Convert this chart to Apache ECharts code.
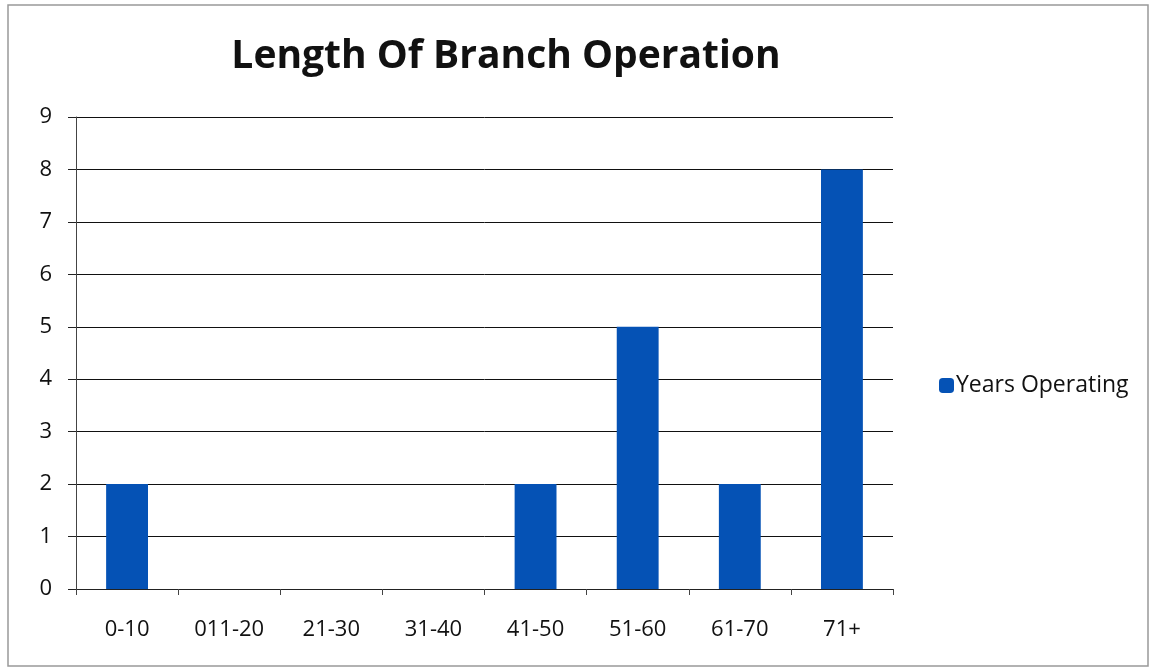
<!DOCTYPE html>
<html>
<head>
<meta charset="utf-8">
<script src="https://cdn.jsdelivr.net/npm/echarts@6/dist/echarts.min.js"></script>
<style>
  html, body { margin: 0; padding: 0; background: #fff; }
  #chart { width: 1150px; height: 671px; }
</style>
</head>
<body>
<div id="chart"></div>
<script>
const categories = ["0-10", "011-20", "21-30", "31-40", "41-50", "51-60", "61-70", "71+"];
const yearsOperating = [2, 0, 0, 0, 2, 5, 2, 8];
const seriesName = "Years Operating";

const chart = echarts.init(document.getElementById("chart"));
const font = "'Open Sans', 'DejaVu Sans', sans-serif";

chart.setOption({
  animation: false,
  title: {
    text: "Length Of Branch Operation",
    left: 501,
    textAlign: "center",
    top: 32,
    textStyle: { fontFamily: font, fontSize: 39, fontWeight: "bold", color: "#111" }
  },
  legend: {
    data: [seriesName],
    orient: "vertical",
    left: 934,
    top: 369,
    itemWidth: 15,
    itemHeight: 15,
    itemGap: 4,
    textStyle: { fontFamily: font, fontSize: 23, color: "#111", padding: [0, 0, 0, -3] }
  },
  graphic: [{
    type: "rect",
    shape: { x: 8, y: 5, width: 1140, height: 661 },
    style: { fill: "none", stroke: "#999", lineWidth: 1.5 }
  }],
  grid: { left: 76, right: 257, top: 117, bottom: 82 },
  xAxis: {
    type: "category",
    data: categories,
    axisLine: { lineStyle: { color: "#222", width: 1 } },
    axisTick: { show: true, alignWithLabel: false, length: 6, lineStyle: { color: "#444" } },
    axisLabel: { fontFamily: font, fontSize: 22, color: "#111", margin: 30 }
  },
  yAxis: {
    type: "value",
    min: 0,
    max: 9,
    interval: 1,
    axisLine: { show: true, lineStyle: { color: "#444", width: 1 } },
    axisTick: { show: true, length: 8, lineStyle: { color: "#222" } },
    axisLabel: { fontFamily: font, fontSize: 22, color: "#111", margin: 24 },
    splitLine: { lineStyle: { color: "#111", width: 1 } }
  },
  series: [{
    name: seriesName,
    type: "bar",
    data: yearsOperating,
    barWidth: "41%",
    itemStyle: { color: "#0552B5" }
  }]
});
</script>
</body>
</html>
